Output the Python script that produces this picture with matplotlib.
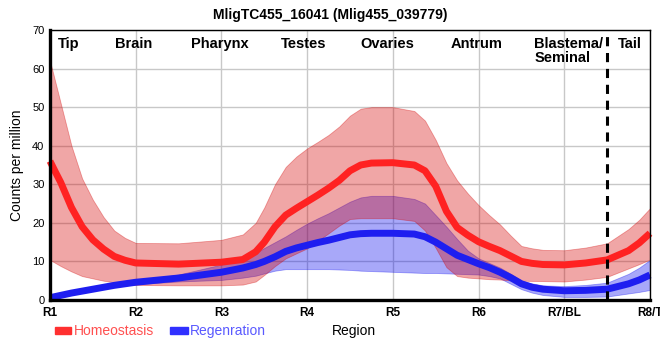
import numpy as np
import matplotlib
matplotlib.use("Agg")
import matplotlib.pyplot as plt
from matplotlib.patches import Rectangle

plt.rcParams['font.family'] = ['Liberation Sans', 'DejaVu Sans']

# positions along the body (0 = R1 ... 7 = R8/T)
pos = [0, 0.0625, 0.125, 0.25, 0.375, 0.5, 0.625, 0.75, 0.875, 1, 1.5, 2, 2.25,
       2.4, 2.5, 2.625, 2.75, 2.875, 3, 3.125, 3.25, 3.375, 3.5, 3.625, 3.75, 4,
       4.25, 4.375, 4.5, 4.625, 4.75, 4.875, 5, 5.125, 5.25, 5.375, 5.5, 5.625,
       5.75, 6, 6.25, 6.5, 6.75, 6.875, 7]

hom_mean = [36, 33.2, 30.5, 24, 19, 15.6, 13.2, 11.3, 10.3, 9.6, 9.3, 9.8, 10.5,
            12.5, 15, 19, 22, 23.8, 25.5, 27.2, 29, 31.0, 33.5, 35, 35.5, 35.6,
            35, 33.5, 29.5, 23, 18.8, 16.8, 15.1, 13.9, 12.8, 11.4, 10, 9.5,
            9.2, 9.1, 9.6, 10.4, 12.8, 14.8, 17.3]
hom_hi = [62, 56.5, 51, 40, 31.5, 26, 21.5, 18, 16.1, 14.8, 14.7, 15.6, 17,
          20, 24, 30, 34.5, 37.2, 39.3, 41.0, 42.8, 45.0, 47.8, 49.6, 50, 50,
          49, 46.5, 41.5, 35.5, 31, 27.6, 24.6, 22.0, 19.6, 16.7, 14, 13.4,
          13, 12.9, 13.6, 14.7, 18.4, 20.8, 23.8]
hom_lo = [10.4, 9.6, 8.8, 7.4, 6.2, 5.6, 5.0, 4.6, 4.2, 3.9, 3.8, 3.8, 4.0,
          4.8, 6.5, 8.8, 10.8, 12.1, 13.4, 15.3, 17.3, 19.3, 21, 21.2, 21.2, 21.2,
          20.5, 18, 13.5, 8.5, 6.2, 5.8, 5.6, 5.4, 5.3, 5.1, 5.0, 4.95,
          4.9, 4.8, 5.3, 6.0, 8.2, 9.3, 10.5]

reg_mean = [0.6, 0.9, 1.2, 1.8, 2.3, 2.8, 3.3, 3.8, 4.2, 4.6, 5.7, 7.2, 8.3,
            9.2, 10, 11.2, 12.6, 13.5, 14.2, 14.9, 15.5, 16.2, 16.9, 17.2, 17.3, 17.3,
            17.1, 16.4, 15, 13.3, 11.6, 10.5, 9.4, 8.4, 7.2, 5.8, 4.2, 3.3,
            2.8, 2.4, 2.5, 2.8, 4.2, 5.2, 6.5]
reg_hi = [1.0, 1.3, 1.6, 2.2, 2.7, 3.2, 3.7, 4.2, 4.6, 5.0, 6.6, 9.2, 10.8,
          12.2, 13.5, 15, 16.5, 18.2, 19.8, 21.2, 22.5, 24.0, 25.5, 26.6, 27, 27,
          26.2, 25, 22, 19, 15.8, 12.8, 10.8, 9.6, 8.4, 6.8, 5.0, 4.3,
          3.8, 3.6, 3.9, 4.5, 6.8, 8.4, 10.4]
reg_lo = [0.2, 0.5, 0.8, 1.4, 1.9, 2.4, 2.9, 3.4, 3.8, 4.1, 4.8, 5.2, 5.8,
          6.3, 6.9, 7.6, 8.0, 8.0, 8.0, 8.0, 8.0, 7.9, 7.8, 7.6, 7.5, 7.3,
          7.1, 7.0, 7.0, 6.9, 6.8, 6.7, 6.6, 6.2, 5.6, 4.2, 2.8, 1.9,
          1.3, 0.8, 0.8, 0.9, 1.7, 2.1, 2.6]

tick_labels = ['R1', 'R2', 'R3', 'R4', 'R5', 'R6', 'R7/BL', 'R8/T']
regions = ['Tip', 'Brain', 'Pharynx', 'Testes', 'Ovaries', 'Antrum', 'Blastema/\nSeminal', 'Tail']
region_x = [0.22, 0.97, 1.98, 2.96, 3.94, 4.98, 5.65, 6.77]
region_ha = ['center'] * 6 + ['left', 'center']

fig = plt.figure(figsize=(6.6, 3.6), dpi=100)
ax = fig.add_axes([50 / 660, 60 / 360, 600 / 660, 270 / 360])

# blue first, the red band sits on top of the blue line
ax.fill_between(pos, reg_lo, reg_hi, color=(0, 0, 240 / 255), alpha=0.34, lw=0.6,
                edgecolor=(0, 0, 240 / 255, 0.2))
ax.plot(pos, reg_mean, color='#1e1ef0', lw=5, clip_on=False,
        solid_capstyle='butt', solid_joinstyle='round')
ax.fill_between(pos, hom_lo, hom_hi, color=(212 / 255, 0, 0), alpha=0.35, lw=0.6,
                edgecolor=(212 / 255, 0, 0, 0.25))
ax.plot(pos, hom_mean, color='#ff2222', lw=5, clip_on=False,
        solid_capstyle='butt', solid_joinstyle='round')

ax.axvline(6.5, color='black', lw=2.2, ls=(0, (3, 2.2)), zorder=5)

ax.set_xlim(0, 7)
ax.set_ylim(0, 70)
ax.set_xticks(range(8))
ax.set_xticklabels(tick_labels, fontsize=8.5, fontweight='bold')
ax.set_yticks(range(0, 71, 10))
ax.tick_params(axis='y', length=0, pad=4, labelsize=8)
ax.tick_params(axis='x', length=0, pad=5)
ax.grid(True, color='#c8c8c8', lw=1)
ax.set_axisbelow(True)

for side in ['left', 'bottom']:
    ax.spines[side].set_linewidth(2.4)
for side in ['top', 'right']:
    ax.spines[side].set_linewidth(1)
for s in ax.spines.values():
    s.set_zorder(6)

for name, x, ha in zip(regions, region_x, region_ha):
    ax.text(x, 0.975, name, transform=ax.get_xaxis_transform(), ha=ha, va='top',
            fontsize=10.5, fontweight='bold', linespacing=1.0)

ax.set_ylabel('Counts per million', fontsize=10, labelpad=6)

fig.text(0.5, 0.978, 'MligTC455_16041 (Mlig455_039779)', ha='center', va='top',
         fontsize=10, fontweight='bold')

# legend below the plot
fig.patches.append(Rectangle((55 / 660, 1 - 334 / 360), 16 / 660, 7 / 360,
                             transform=fig.transFigure, color='#ff3030'))
fig.text(74 / 660, 1 - 331 / 360, 'Homeostasis', color='#ff5050', fontsize=10, va='center')
fig.patches.append(Rectangle((170 / 660, 1 - 334 / 360), 18 / 660, 7 / 360,
                             transform=fig.transFigure, color='#3030ff'))
fig.text(190 / 660, 1 - 331 / 360, 'Regenration', color='#5a5aff', fontsize=10, va='center')
fig.text(332 / 660, 1 - 331 / 360, 'Region', color='black', fontsize=10, va='center')

fig.savefig('out.png', dpi=100)
